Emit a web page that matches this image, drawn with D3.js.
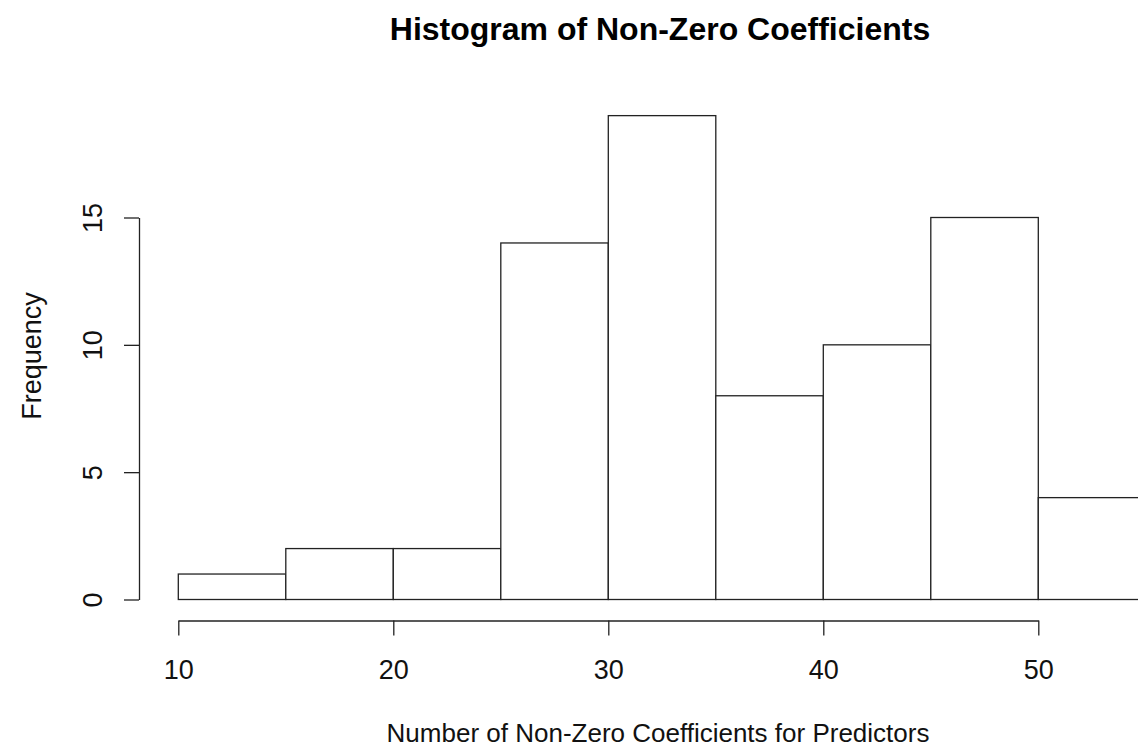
<!doctype html>
<html lang="en">
<head>
  <meta charset="utf-8">
  <title>Histogram of Non-Zero Coefficients</title>
  <style>
    body { margin: 0; background: #fff; }
    svg { display: block; font-family: "Liberation Sans", Arial, sans-serif; }
  </style>
</head>
<body>
  <script src="https://cdn.jsdelivr.net/npm/d3@7/dist/d3.min.js"></script>
  <svg width="1138" height="749"></svg>
  <script>
    // bin edges (lower bound) and counts
    var binStarts = [10, 15, 20, 25, 30, 35, 40, 45, 50];
    var binWidth = 5;
    var counts = [1, 2, 2, 14, 19, 8, 10, 15, 4];
    var xTicks = [10, 20, 30, 40, 50];
    var yTicks = [0, 5, 10, 15];

    var svg = d3.select("svg");
    var x = d3.scaleLinear().domain([10, 50]).range([178.3, 1038.3]);
    var y = d3.scaleLinear().domain([0, 15]).range([599.5, 217.5]);

    var bins = binStarts.map((d, i) => ({x0: d, x1: d + binWidth, n: counts[i]}));

    svg.selectAll("rect.bar")
      .data(bins)
      .enter()
      .append("rect")
        .attr("class", "bar")
        .attr("x", d => x(d.x0))
        .attr("y", d => y(d.n))
        .attr("width", d => x(d.x1) - x(d.x0))
        .attr("height", d => y(0) - y(d.n))
        .style("fill", "white")
        .style("stroke", "#222")
        .style("stroke-width", "1.3px");

    // R style axes, pulled away from the plot
    var xAxis = svg.append("g")
      .attr("transform", "translate(0,620.5)")
      .call(d3.axisBottom(x).tickValues(xTicks).tickSize(15).tickSizeOuter(0));
    var yAxis = svg.append("g")
      .attr("transform", "translate(139,0)")
      .call(d3.axisLeft(y).tickValues(yTicks).tickSize(15).tickSizeOuter(0));

    [xAxis, yAxis].forEach(g => {
      g.selectAll("path, line").attr("stroke", "#222").attr("stroke-width", 1.3);
      g.selectAll("text").attr("fill", "#111").style("font-size", "27px")
        .attr("font-family", "Liberation Sans, Arial, sans-serif");
    });
    xAxis.selectAll("text").attr("y", 58.5).attr("dy", null);
    yAxis.selectAll("text")
      .attr("x", null).attr("dy", null)
      .attr("text-anchor", "middle")
      .attr("transform", "translate(-37,0) rotate(-90)")
      .attr("y", 0);

    svg.append("text")
      .attr("x", 660).attr("y", 39.5)
      .attr("text-anchor", "middle")
      .style("font-size", "32px").style("font-weight", "bold")
      .text("Histogram of Non-Zero Coefficients");

    svg.append("text")
      .attr("x", 658).attr("y", 742)
      .attr("text-anchor", "middle")
      .style("font-size", "26px").attr("fill", "#111")
      .text("Number of Non-Zero Coefficients for Predictors");

    svg.append("text")
      .attr("transform", "translate(41,356) rotate(-90)")
      .attr("text-anchor", "middle")
      .style("font-size", "27px").attr("fill", "#111")
      .text("Frequency");
  </script>
</body>
</html>
